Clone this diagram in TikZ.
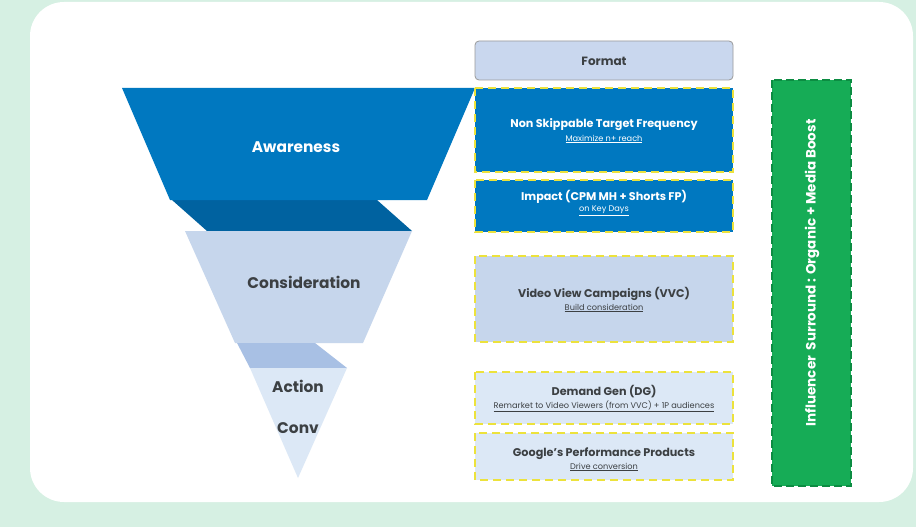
\documentclass[tikz,border=0pt]{standalone}
\usepackage{fontspec}
\setmainfont{Poppins}
\usetikzlibrary{calc}
\definecolor{bgmint}{RGB}{214,240,227}
\definecolor{awblue}{RGB}{0,120,192}
\definecolor{awdark}{RGB}{0,98,160}
\definecolor{conblue}{RGB}{198,214,236}
\definecolor{conmid}{RGB}{168,192,228}
\definecolor{actblue}{RGB}{220,232,246}
\definecolor{fmtblue}{RGB}{201,215,238}
\definecolor{dashyel}{RGB}{236,226,60}
\definecolor{infgreen}{RGB}{22,172,86}
\definecolor{infdark}{RGB}{12,140,66}
\definecolor{txtgray}{RGB}{60,64,67}
\tikzset{
  fbox/.style={draw=dashyel, line width=1.8pt, dash pattern=on 8pt off 5pt},
  ttl/.style={font=\bfseries\fontsize{11.2}{13}\selectfont, inner sep=0pt},
  fmttxt/.style={font=\bfseries\fontsize{12}{14}\selectfont, inner sep=0pt},
  sub/.style={font=\fontsize{8.2}{9}\selectfont, inner sep=0pt},
  funtxt/.style={font=\bfseries\fontsize{15.4}{17}\selectfont, inner sep=0pt},
  inftxt/.style={font=\bfseries\fontsize{13.5}{15}\selectfont, inner sep=0pt},
}
\newcommand{\ul}[1]{\underline{#1}}
\begin{document}
\begin{tikzpicture}[x=1pt,y=-1pt]
\useasboundingbox (0,0) rectangle (916,527);
\fill[bgmint] (0,0) rectangle (916,527);
\fill[white, rounded corners=34pt] (30,2) rectangle (913,502);
% funnel
\fill[awdark] (172,200) -- (377,200) -- (412,231) -- (207,231) -- cycle;
\fill[awblue] (122,88) -- (475,88) -- (427,200) -- (170,200) -- cycle;
\fill[conblue] (185,231) -- (412,231) -- (363,343) -- (235,343) -- cycle;
\fill[conmid] (237,343) -- (315,343) -- (347,368) -- (250,368) -- cycle;
\fill[actblue] (250,368) -- (347,368) -- (298,478) -- cycle;
\node[funtxt, text=white] (aw) at (296,147) {Awareness};
\node[funtxt, text=txtgray] (co) at (304,282) {Consideration};
\node[funtxt, text=txtgray] (ac) at (298,386) {Action};
\node[funtxt, text=txtgray] (cv) at (298,428) {Conv};
% format boxes
\draw[fill=fmtblue, draw=gray!80, rounded corners=4pt, line width=0.8pt] (475,41) rectangle (733,80);
\node[fmttxt, text=txtgray] (fmt) at (604,61) {Format};
\draw[fbox, fill=awblue] (475,88) rectangle (733,172);
\node[ttl, text=white] (ns) at (604,125) {Non Skippable Target Frequency};
\node[sub, text=white] (nss) at (604,139) {\ul{Maximize n+ reach}};
\draw[fbox, fill=awblue] (475,180) rectangle (733,232);
\node[ttl, text=white] (im) at (604,197) {Impact (CPM MH + Shorts FP)};
\node[sub, text=white] (ims) at (604,211) {\ul{on Key Days}};
\draw[fbox, fill=conblue] (475,256) rectangle (733,342);
\node[ttl, text=txtgray] (vv) at (604,294) {Video View Campaigns (VVC)};
\node[sub, text=txtgray] (vvs) at (604,308) {\ul{Build consideration}};
\draw[fbox, fill=actblue] (475,372) rectangle (733,424);
\node[ttl, text=txtgray] (dg) at (604,392) {Demand Gen (DG)};
\node[sub, text=txtgray] (dgs) at (604,406) {\ul{Remarket to Video Viewers (from VVC) + 1P audiences}};
\draw[fbox, fill=actblue] (475,433) rectangle (733,480);
\node[ttl, text=txtgray] (gp) at (604,454) {Google's Performance Products};
\node[sub, text=txtgray] (gps) at (604,467) {\ul{Drive conversion}};
% influencer
\draw[fill=infgreen, draw=infdark, line width=1.5pt, dash pattern=on 8pt off 4pt] (772,80) rectangle (851,486);
\node[inftxt, text=white, rotate=90] (inf) at (812,273) {Influencer\ \ Surround : Organic + Media Boost};
\end{tikzpicture}
\end{document}
